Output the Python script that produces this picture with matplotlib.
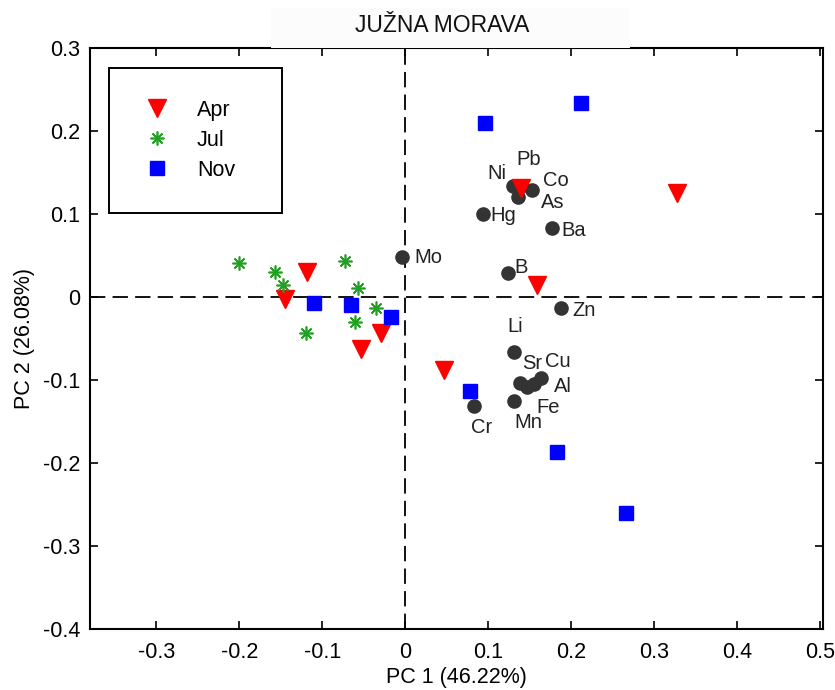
"""
PCA biplot of element loadings and sampling-month scores, Južna Morava
"""

import matplotlib.pyplot as plt
from matplotlib.patches import Rectangle

#---------------------------------------------------------------------------------------------------
# Input Data
#---------------------------------------------------------------------------------------------------

# Sample scores per month
apr_pc1 = [-0.118, -0.145, -0.054, -0.029, 0.047, 0.139, 0.158, 0.327]
apr_pc2 = [0.030, -0.002, -0.063, -0.043, -0.088, 0.131, 0.014, 0.125]

jul_pc1 = [-0.200, -0.157, -0.148, -0.120, -0.073, -0.057, -0.036, -0.061]
jul_pc2 = [0.041, 0.030, 0.014, -0.043, 0.043, 0.011, -0.013, -0.030]

nov_pc1 = [-0.110, -0.066, -0.018, 0.096, 0.211, 0.078, 0.182, 0.266]
nov_pc2 = [-0.007, -0.010, -0.024, 0.210, 0.234, -0.113, -0.187, -0.260]

# Element loadings
elements = ['Mo', 'Ni', 'Pb', 'Co', 'As', 'Hg', 'Ba', 'B', 'Zn',
            'Li', 'Sr', 'Cu', 'Al', 'Fe', 'Mn', 'Cr']
elem_pc1 = [-0.004, 0.129, 0.139, 0.153, 0.135, 0.094, 0.176, 0.123, 0.187,
            0.131, 0.138, 0.163, 0.155, 0.147, 0.131, 0.082]
elem_pc2 = [0.048, 0.134, 0.134, 0.129, 0.120, 0.100, 0.083, 0.029, -0.013,
            -0.066, -0.104, -0.098, -0.105, -0.108, -0.125, -0.131]

x_ticks = [-0.3, -0.2, -0.1, 0, 0.1, 0.2, 0.3, 0.4, 0.5]
y_ticks = [-0.4, -0.3, -0.2, -0.1, 0, 0.1, 0.2, 0.3]

# Label offsets (points) so element names sit beside their dots
label_offsets = {'Mo': (19, 0), 'Ni': (-11, 9), 'Pb': (6, 19), 'Co': (17, 6.5),
                 'As': (25, -4), 'Hg': (14, -1), 'Ba': (16, -2), 'B': (10, 4),
                 'Zn': (17, -2), 'Li': (1, 18), 'Sr': (9, 14), 'Cu': (12, 12),
                 'Al': (21, -1.5), 'Fe': (15, -15), 'Mn': (10, -16), 'Cr': (6, -16)}

#---------------------------------------------------------------------------------------------------
# Create Plot
#---------------------------------------------------------------------------------------------------

plt.rcParams['font.family'] = ['Liberation Sans', 'DejaVu Sans']

fig = plt.figure(figsize=(8.35, 6.9), dpi=100)
ax = fig.add_axes([0.1078, 0.0884, 0.8778, 0.842])

# Faint title banner
fig.patches.append(Rectangle((0.325, 0.93), 0.43, 0.058, transform=fig.transFigure,
                             facecolor='#fcfcfc', edgecolor='none', zorder=0))
fig.text(0.529, 0.963, 'JUŽNA MORAVA', ha='center', va='center', fontsize=16.5,
         color='#111111')

ax.axhline(0, color='k', lw=1.3, dashes=(8.5, 4), zorder=1)
ax.axvline(0, color='k', lw=1.3, dashes=(8.5, 4), zorder=1)

ax.plot(elem_pc1, elem_pc2, linestyle='none', marker='o', ms=9.5, color='#333333',
        mec='#333333', zorder=2)
for name, x, y in zip(elements, elem_pc1, elem_pc2):
    ax.annotate(name, (x, y), xytext=label_offsets[name], textcoords='offset points',
                ha='center', va='center', fontsize=14.5, color='#222222', zorder=3)

ax.plot(apr_pc1, apr_pc2, linestyle='none', marker='v', ms=12.5, color='#ff0000',
        mec='#ff0000', label='Apr', zorder=4)
ax.plot(jul_pc1, jul_pc2, linestyle='none', marker=(8, 2, 0), ms=10, color='#22a022',
        mec='#22a022', mew=1.2, label='Jul', zorder=4)
ax.plot(nov_pc1, nov_pc2, linestyle='none', marker='s', ms=10.5, color='#0000ff',
        mec='#0000ff', label='Nov', zorder=4)

ax.set_xlim(-0.38, 0.503)
ax.set_ylim(-0.4, 0.3)
ax.set_xticks(x_ticks)
ax.set_yticks(y_ticks)
ax.set_xticklabels(['%g' % t for t in x_ticks])
ax.set_yticklabels(['%g' % t for t in y_ticks])
ax.tick_params(direction='in', length=6, width=1.2, top=True, right=True,
               labelsize=15.5)
ax.tick_params(axis='x', pad=9)
ax.tick_params(axis='y', pad=7)
for sp in ax.spines.values():
    sp.set_linewidth(1.5)

ax.set_xlabel('PC 1 (46.22%)', fontsize=15.5, labelpad=3)
ax.set_ylabel('PC 2 (26.08%)', fontsize=15.5, labelpad=6)

leg = ax.legend(loc='upper left', bbox_to_anchor=(0.026, 0.738, 0.236, 0.2276),
                mode='expand', borderaxespad=0, fontsize=15.5, borderpad=1.48,
                labelspacing=0.42, handlelength=1.5, handletextpad=1.1,
                fancybox=False, framealpha=1, edgecolor='k')
leg.get_frame().set_linewidth(1.4)

plt.savefig('out.png', dpi=100)
